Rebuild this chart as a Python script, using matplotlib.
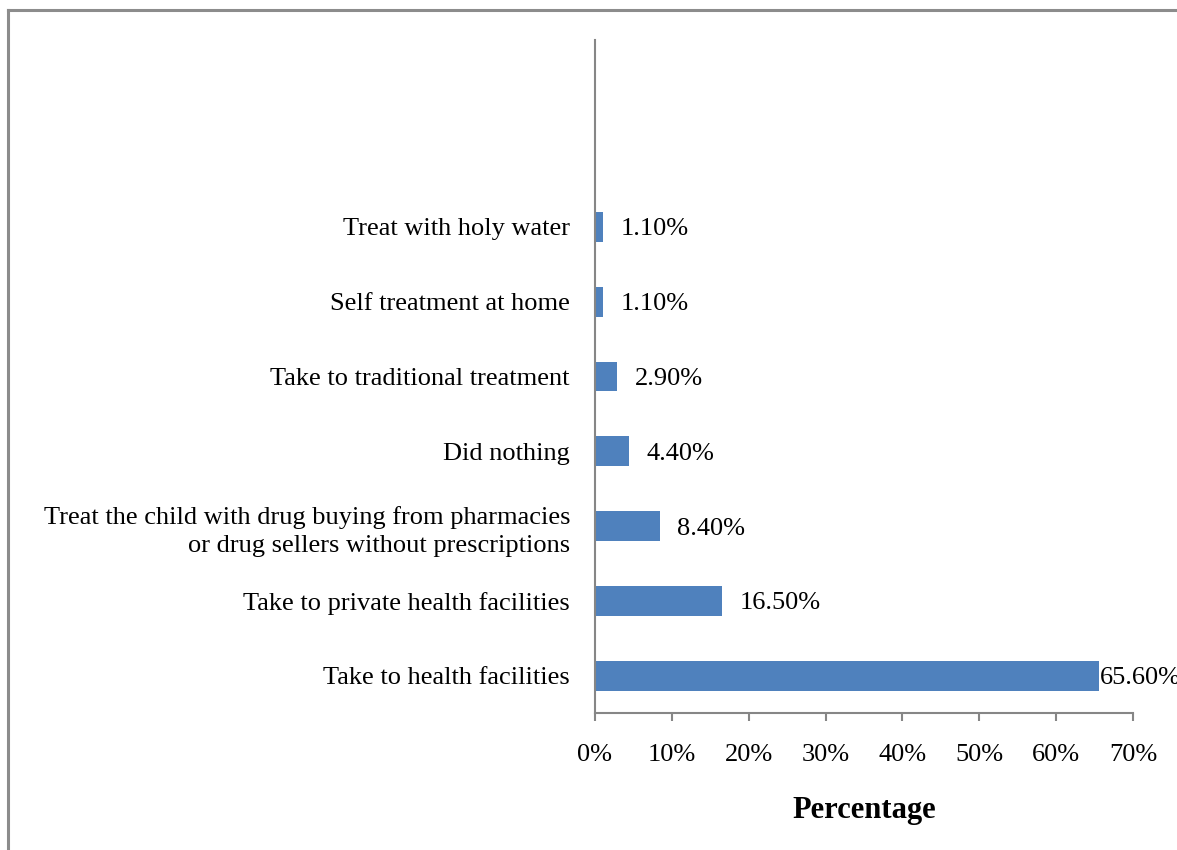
import matplotlib
matplotlib.use("Agg")
import matplotlib.pyplot as plt
from matplotlib.lines import Line2D
from matplotlib.ticker import FuncFormatter, MultipleLocator

plt.rcParams['font.family'] = ['Liberation Serif', 'DejaVu Serif']

categories = [
    "Take to health facilities",
    "Take to private health facilities",
    "Treat the child with drug buying from pharmacies\nor drug sellers without prescriptions",
    "Did nothing",
    "Take to traditional treatment",
    "Self treatment at home",
    "Treat with holy water",
]
values = [65.6, 16.5, 8.4, 4.4, 2.9, 1.1, 1.1]
value_labels = ["65.60%", "16.50%", "8.40%", "4.40%", "2.90%", "1.10%", "1.10%"]

W, H = 1177, 850
fig = plt.figure(figsize=(W / 100, H / 100), dpi=100)
fig.patch.set_facecolor("white")

ax = fig.add_axes([595 / W, 1 - 713 / H, (1133 - 595) / W, (713 - 40) / H])

ypos = list(range(len(categories)))
ax.barh(ypos, values, height=0.4, color="#4F81BD", zorder=2)

ax.set_xlim(0, 70)
ax.set_ylim(-0.5, 8.5)
ax.xaxis.set_major_locator(MultipleLocator(10))
ax.xaxis.set_major_formatter(FuncFormatter(lambda v, p: f"{v:.0f}%"))
ax.set_yticks(ypos)
ax.set_yticklabels(categories, fontsize=19, linespacing=1.35)
for lab in ax.get_yticklabels():
    lab.set_verticalalignment("center_baseline")

for side in ("top", "right"):
    ax.spines[side].set_visible(False)
for side in ("left", "bottom"):
    ax.spines[side].set_color("#868686")
    ax.spines[side].set_linewidth(1.5)

ax.tick_params(axis="y", length=0, pad=18)
ax.tick_params(axis="x", direction="out", length=6, width=1.5, color="#868686",
               labelsize=19, pad=16)
ax.set_xlabel("Percentage", fontsize=22, fontweight="bold", labelpad=22)

# value labels to the right of each bar, pulled in if they would run off the page
renderer = fig.canvas.get_renderer()
for y, v, lab in zip(ypos, values, value_labels):
    t = ax.annotate(lab, xy=(v, y), xytext=(12.5, 0), textcoords="offset points",
                    ha="left", va="center_baseline", fontsize=19,
                    annotation_clip=False)
    bb = t.get_window_extent(renderer)
    if bb.x1 > W:
        t.set_position((max(0.5, 12.5 - (bb.x1 - W) * 0.72), 0))

# frame lines along the top and left edges of the page
fig.add_artist(Line2D([8 / W, 8 / W], [0, 1 - 10 / H], transform=fig.transFigure,
                      color="#8c8c8c", linewidth=2.2))
fig.add_artist(Line2D([8 / W, 1], [1 - 10 / H, 1 - 10 / H], transform=fig.transFigure,
                      color="#8c8c8c", linewidth=2.2))

fig.savefig("out.png", dpi=100, facecolor="white")
